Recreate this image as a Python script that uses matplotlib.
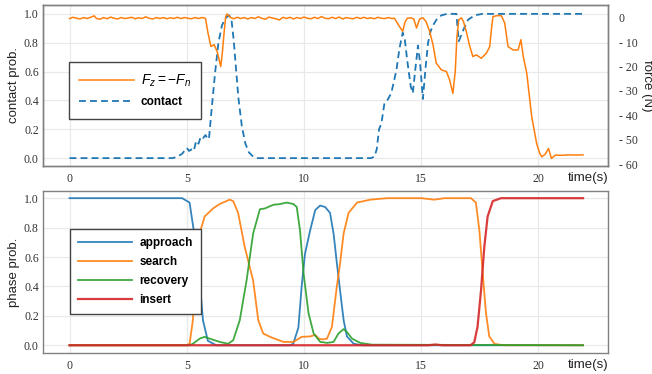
import matplotlib
matplotlib.use("Agg")
import matplotlib.pyplot as plt
import numpy as np

# ---------------- data ----------------
# contact probability (top, left axis)
contact_t = [0.0, 4.4, 4.6, 4.8, 5.0, 5.1, 5.2, 5.3, 5.4, 5.5, 5.6, 5.7, 5.8, 5.9, 5.95,
             6.05, 6.2, 6.35, 6.5, 6.65, 6.8, 6.9, 7.0, 7.1, 7.2, 7.35, 7.5, 7.65, 7.8, 8.0,
             12.85, 13.0, 13.1, 13.2, 13.3, 13.43, 13.55, 13.72, 13.86, 13.95, 14.07, 14.21,
             14.3, 14.4, 14.55, 14.64, 14.75, 14.86, 14.95, 15.07, 15.18, 15.29, 15.4, 15.5,
             15.65, 15.86, 16.1, 16.5, 16.55, 16.6, 16.7, 16.85, 17.0, 17.28, 17.6, 21.9]
contact_p = [0.0, 0.0, 0.01, 0.03, 0.07, 0.05, 0.06, 0.05, 0.12, 0.10, 0.15, 0.14, 0.16, 0.13, 0.14,
             0.32, 0.58, 0.80, 0.92, 0.97, 0.99, 0.97, 0.82, 0.62, 0.42, 0.22, 0.10, 0.04, 0.015, 0.0,
             0.0, 0.01, 0.06, 0.20, 0.24, 0.38, 0.40, 0.45, 0.55, 0.62, 0.76, 0.87,
             0.82, 0.68, 0.50, 0.45, 0.62, 0.78, 0.66, 0.41, 0.62, 0.80, 0.88, 0.92,
             0.96, 0.99, 1.0, 1.0, 0.90, 0.81, 0.85, 0.91, 0.96, 0.99, 1.0, 1.0]

# measured force Fz = -Fn (top, right axis, N)
force_t = [0.0, 0.15, 0.3, 0.45, 0.6, 0.75, 0.9, 1.05, 1.15, 1.3, 1.45, 1.6, 1.75, 1.9, 2.05,
           2.2, 2.35, 2.5, 2.65, 2.8, 2.95, 3.1, 3.25, 3.4, 3.55, 3.7, 3.85, 4.0, 4.15, 4.3,
           4.45, 4.6, 4.75, 4.9, 5.05, 5.2, 5.35, 5.5, 5.65, 5.8, 5.9, 6.03, 6.17, 6.3, 6.45,
           6.52, 6.59, 6.66, 6.72, 6.85, 7.0, 7.15, 7.3, 7.45, 7.6, 7.75, 7.9, 8.05, 8.2, 8.35,
           8.5, 8.65, 8.8, 8.95, 9.1, 9.25, 9.4, 9.55, 9.7, 9.85, 10.0, 10.15, 10.3, 10.45,
           10.6, 10.75, 10.9, 11.05, 11.2, 11.35, 11.5, 11.65, 11.8, 11.95, 12.1, 12.25, 12.4,
           12.55, 12.7, 12.85, 13.0, 13.15, 13.3, 13.45, 13.6, 13.75, 13.86, 14.0, 14.21, 14.3,
           14.4, 14.55, 14.68, 14.8, 14.93, 15.07, 15.2, 15.36, 15.5, 15.64, 15.86, 16.07,
           16.21, 16.35, 16.45, 16.52, 16.6, 16.71, 16.8, 16.92, 17.05, 17.2, 17.35, 17.56,
           17.78, 17.92, 18.0, 18.06, 18.25, 18.42, 18.56, 18.7, 18.92, 19.13, 19.25, 19.35,
           19.5, 19.71, 19.92, 20.05, 20.14, 20.28, 20.43, 20.55, 20.72, 21.0, 21.3, 21.6, 21.9]
force_n = [-0.3, 0.2, -0.2, -0.5, 0.1, -0.3, 0.2, 0.8, -0.3, -0.6, 0.1, -0.4, 0.3, -0.2, -0.5,
           0.1, -0.3, -0.1, 0.2, -0.4, 0.0, -0.3, 0.4, -0.2, -0.5, 0.1, -0.3, 0.1, -0.4, 0.0,
           -0.3, 0.2, -0.3, 0.1, -0.2, -0.4, 0.1, -0.3, 0.1, -0.2, -6.0, -11.8, -11.0, -14.0, -20.0,
           -14.0, -6.3, 0.5, 1.6, 0.2, -0.4, 0.2, -0.3, 0.1, -0.5, 0.1, -0.3, 0.4, -0.2, -0.6,
           0.3, -0.1, -0.4, -0.9, 0.2, -0.3, 0.2, -0.5, 0.1, -0.3, 0.3, -0.2, -0.4, 0.2,
           -0.3, 0.5, -0.2, -0.4, 0.2, -0.3, 0.3, -0.5, 0.1, -0.2, -0.4, 0.2, -0.3,
           0.2, -0.3, 0.0, -0.4, 0.2, -0.2, -0.3, 0.1, -0.3, -0.2, -2.5, -5.6, -2.0,
           -0.2, 0.0, -0.5, -4.2, -0.5, 0.0, -1.5, -5.6, -11.0, -18.6, -21.4, -22.0,
           -25.5, -31.0, -22.0, -8.0, -0.8, 0.0, -1.5, -5.6, -11.0, -15.9, -15.2, -16.6,
           -14.5, -11.8, -4.0, 0.5, 0.9, 0.8, -2.2, -11.8, -13.2, -13.2, -9.0, -15.9,
           -22.7, -40.5, -51.5, -55.5, -57.0, -56.0, -53.6, -57.7, -56.3, -56.4, -56.2, -56.3, -56.2]

# phase probabilities (bottom)
approach_t = [0.0, 4.8, 5.12, 5.4, 5.55, 5.69, 5.9, 6.26, 9.4, 9.54, 9.76, 9.9, 10.04, 10.26,
              10.48, 10.69, 10.9, 11.11, 11.26, 11.4, 11.54, 11.69, 11.83, 12.12, 12.5, 21.9]
approach_p = [1.0, 1.0, 0.97, 0.67, 0.44, 0.17, 0.03, 0.0, 0.0, 0.01, 0.12, 0.40, 0.62, 0.78,
              0.92, 0.95, 0.94, 0.90, 0.76, 0.56, 0.37, 0.17, 0.06, 0.01, 0.0, 0.0]

search_t = [0.0, 4.95, 5.12, 5.26, 5.4, 5.55, 5.76, 6.12, 6.4, 6.83, 6.98, 7.19, 7.47, 7.83,
            8.05, 8.26, 8.55, 8.83, 9.12, 9.55, 9.9, 10.26, 10.48, 10.62, 10.8, 10.98, 11.19,
            11.4, 11.54, 11.69, 11.9, 12.26, 12.83, 13.55, 15.0, 15.55, 16.0, 17.12, 17.33,
            17.48, 17.62, 17.76, 17.9, 18.12, 18.5, 21.9]
search_p = [0.0, 0.0, 0.01, 0.17, 0.56, 0.76, 0.875, 0.93, 0.96, 0.99, 0.98, 0.90, 0.67, 0.44,
            0.17, 0.08, 0.057, 0.04, 0.023, 0.023, 0.057, 0.06, 0.07, 0.045, 0.04, 0.045, 0.125,
            0.40, 0.56, 0.76, 0.90, 0.97, 0.99, 1.0, 1.0, 0.99, 1.0, 1.0, 0.97,
            0.78, 0.49, 0.22, 0.06, 0.01, 0.0, 0.0]

recovery_t = [0.0, 5.1, 5.26, 5.55, 5.76, 5.98, 6.4, 6.76, 6.98, 7.26, 7.55, 7.83, 8.12, 8.33,
              8.69, 8.98, 9.26, 9.55, 9.69, 9.83, 9.98, 10.19, 10.41, 10.69, 11.0, 11.26, 11.47,
              11.69, 11.83, 12.05, 12.4, 12.9, 21.9]
recovery_p = [0.0, 0.0, 0.01, 0.045, 0.057, 0.045, 0.023, 0.01, 0.034, 0.17, 0.44, 0.76, 0.925, 0.93,
              0.955, 0.96, 0.97, 0.96, 0.94, 0.78, 0.49, 0.22, 0.08, 0.023, 0.016, 0.023, 0.08,
              0.11, 0.09, 0.045, 0.016, 0.004, 0.0]

insert_t = [0.0, 15.3, 15.6, 15.9, 17.1, 17.26, 17.4, 17.55, 17.69, 17.83, 18.05, 18.4, 21.9]
insert_p = [0.0, 0.0, 0.005, 0.0, 0.0, 0.02, 0.125, 0.375, 0.67, 0.875, 0.98, 1.0, 1.0]

x_ticks = [0, 5, 10, 15, 20]
prob_ticks = [0.0, 0.2, 0.4, 0.6, 0.8, 1.0]
force_ticks = [0, -10, -20, -30, -40, -50, -60]
force_ticklabels = ["0", "- 10", "- 20", "- 30", "- 40", "- 50", "- 60"]

# ---------------- style ----------------
plt.rcParams['font.family'] = ['Liberation Sans', 'DejaVu Sans']
plt.rcParams['mathtext.fontset'] = 'custom'
plt.rcParams['mathtext.it'] = 'Liberation Sans:italic'
plt.rcParams['mathtext.rm'] = 'Liberation Sans'

BLUE, ORANGE, GREEN, RED = '#1f77b4', '#ff7f0e', '#2ca02c', '#d62728'
SPINE = '#808080'
GRID = '#e9e9e9'
TICKFONT = dict(family='Liberation Serif', size=8.5, color='#333333')

fig = plt.figure(figsize=(6.52, 3.74), dpi=100)
ax1 = fig.add_axes([0.066, 0.556, 0.866, 0.431])
ax3 = fig.add_axes([0.066, 0.056, 0.866, 0.433])

XLIM = (-1.13, 22.95)


def style_axes(ax):
    for s in ax.spines.values():
        s.set_color(SPINE)
        s.set_linewidth(1.0)
    ax.grid(True, color=GRID, linewidth=0.9)
    ax.set_axisbelow(True)
    ax.set_xticks(x_ticks)
    ax.set_yticks(prob_ticks)
    ax.set_xlim(*XLIM)
    for lab in ax.get_xticklabels() + ax.get_yticklabels():
        lab.set_fontfamily(TICKFONT['family'])
        lab.set_fontsize(TICKFONT['size'])
        lab.set_color(TICKFONT['color'])
    ax.tick_params(axis='x', length=0, pad=5)
    ax.tick_params(axis='y', length=0, pad=3)
    ax.annotate('time(s)', xy=(0.966, 0), xycoords='axes fraction',
                xytext=(0, -8.8), textcoords='offset points',
                ha='center', va='center', fontsize=9.5, color='#222222')


# ---- top ----
style_axes(ax1)
ax1.set_ylim(-0.055, 1.0625)
ax1.set_ylabel('contact prob.', fontsize=9.5, labelpad=3, color='#222222')
l_contact, = ax1.plot(contact_t, contact_p, color=BLUE, lw=1.3,
                      linestyle=(0, (3.8, 2.3)), label='contact')

ax2 = ax1.twinx()
ax2.set_ylim(-60.8, 5.3)
ax2.set_xlim(*XLIM)
ax2.set_yticks(force_ticks)
ax2.set_yticklabels(force_ticklabels)
ax2.tick_params(length=0, pad=8)
for lab in ax2.get_yticklabels():
    lab.set_fontfamily(TICKFONT['family'])
    lab.set_fontsize(TICKFONT['size'])
    lab.set_color(TICKFONT['color'])
for s in ax2.spines.values():
    s.set_color(SPINE)
    s.set_linewidth(1.0)
ax2.set_ylabel('force (N)', fontsize=9.5, rotation=270, color='#222222', va='center')
ax2.yaxis.set_label_coords(1.070, 0.5)
l_force, = ax2.plot(force_t, force_n, color=ORANGE, lw=1.1, label=r'$F_z = -F_n$')

leg1 = ax2.legend([l_force, l_contact], [r'$F_z = -F_n$', 'contact'],
                  loc='upper left', bbox_to_anchor=(0.035, 0.685),
                  handlelength=4.6, handletextpad=0.6, borderpad=0.9,
                  labelspacing=0.65, fancybox=False, framealpha=1,
                  prop=dict(weight='bold', size=8.5))
leg1.get_frame().set_edgecolor('#444444')
leg1.get_frame().set_linewidth(1.0)
leg1.get_texts()[0].set_fontsize(10)

# ---- bottom ----
style_axes(ax3)
ax3.set_ylim(-0.053, 1.048)
ax3.set_ylabel('phase prob.', fontsize=9.5, labelpad=3, color='#222222')
ax3.plot(approach_t, approach_p, color=BLUE, lw=1.3, alpha=0.9, label='approach')
ax3.plot(search_t, search_p, color=ORANGE, lw=1.3, alpha=0.9, label='search')
ax3.plot(recovery_t, recovery_p, color=GREEN, lw=1.3, alpha=0.9, label='recovery')
ax3.plot(insert_t, insert_p, color=RED, lw=1.6, alpha=0.9, label='insert')
leg3 = ax3.legend(loc='upper left', bbox_to_anchor=(0.037, 0.805),
                  handlelength=4.6, handletextpad=0.6, borderpad=0.7,
                  labelspacing=0.6, fancybox=False, framealpha=1,
                  prop=dict(weight='bold', size=8.5))
leg3.get_frame().set_edgecolor('#444444')
leg3.get_frame().set_linewidth(1.0)

fig.savefig('out.png', dpi=100)
